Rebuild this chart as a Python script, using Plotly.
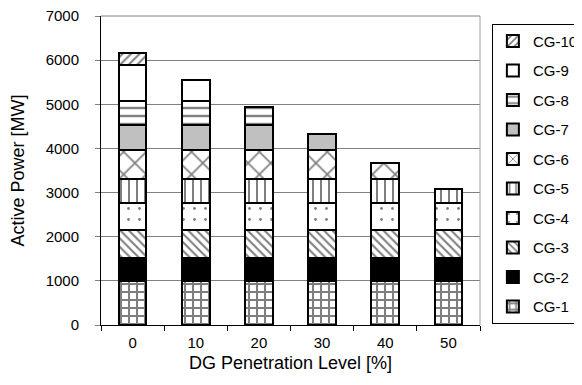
import plotly.graph_objects as go

levels = ["0", "10", "20", "30", "40", "50"]
series_names = ["CG-1", "CG-2", "CG-3", "CG-4", "CG-5", "CG-6", "CG-7", "CG-8", "CG-9", "CG-10"]
cg1 = [990, 990, 990, 990, 990, 990]
cg2 = [530, 530, 530, 530, 530, 530]
cg3 = [640, 640, 640, 640, 640, 640]
cg4 = [600, 600, 600, 600, 600, 600]
cg5 = [555, 555, 555, 555, 555, 312]
cg6 = [650, 650, 650, 650, 363, None]
cg7 = [570, 570, 570, 357, None, None]
cg8 = [545, 545, 395, None, None, None]
cg9 = [820, 470, None, None, None, None]
cg10 = [260, None, None, None, None, None]
y_ticks = [0, 1000, 2000, 3000, 4000, 5000, 6000, 7000]

all_series = [cg1, cg2, cg3, cg4, cg5, cg6, cg7, cg8, cg9, cg10]

styles = [
    dict(color="white", pattern=dict(shape="+", size=8, solidity=0.45, fgcolor="black", bgcolor="white")),
    dict(color="black"),
    dict(color="white", pattern=dict(shape="\\", size=6, solidity=0.35, fgcolor="black", bgcolor="white")),
    dict(color="white", pattern=dict(shape=".", size=11, solidity=0.05, fgcolor="black", bgcolor="white")),
    dict(color="white", pattern=dict(shape="|", size=8, solidity=0.25, fgcolor="black", bgcolor="white")),
    dict(color="white", pattern=dict(shape="x", size=16, solidity=0.2, fgcolor="black", bgcolor="white")),
    dict(color="#c0c0c0"),
    dict(color="white", pattern=dict(shape="-", size=8, solidity=0.3, fgcolor="black", bgcolor="white")),
    dict(color="white"),
    dict(color="white", pattern=dict(shape="/", size=6, solidity=0.35, fgcolor="black", bgcolor="white")),
]

fig = go.Figure()
for i, (name, vals, st) in enumerate(zip(series_names, all_series, styles)):
    marker = dict(line=dict(color="black", width=2))
    marker.update(st)
    fig.add_trace(go.Bar(x=levels, y=vals, name=name, marker=marker,
                         legendgroup=name, legendrank=100 - i))

font = dict(family="Liberation Sans, Arial, sans-serif", size=15, color="black")

# page body adds an 8px offset, so the figure is 8px smaller on each axis
fig.update_layout(
    barmode="stack",
    bargap=0.56,
    width=574,
    height=377,
    margin=dict(l=93, r=102, t=8, b=60),
    paper_bgcolor="white",
    plot_bgcolor="white",
    font=font,
    showlegend=True,
    legend=dict(
        xref="container", yref="paper",
        x=0.843, y=0.975, xanchor="left", yanchor="top",
        traceorder="grouped",
        tracegroupgap=7,
        bordercolor="black", borderwidth=1,
        font=dict(family="Liberation Sans, Arial, sans-serif", size=15, color="black"),
        itemwidth=30,
    ),
    xaxis=dict(
        title=dict(text="DG Penetration Level [%]", standoff=6),
        showline=True, linecolor="black", linewidth=1,
        ticks="outside", tickson="boundaries", ticklen=5, tickcolor="black",
        ticklabelstandoff=4,
        showgrid=False,
        automargin=False,
    ),
    yaxis=dict(
        title=dict(text="Active Power [MW]", standoff=30),
        range=[0, 7000],
        tickvals=y_ticks,
        showline=True, linecolor="black", linewidth=1,
        ticks="outside", ticklen=5, tickcolor="#808080",
        ticklabelstandoff=13,
        ticklabeloverflow="allow",
        showgrid=True, gridcolor="#808080", gridwidth=1,
        zeroline=False,
        automargin=False,
    ),
    shapes=[
        dict(type="line", xref="paper", yref="paper", x0=1, x1=1, y0=0, y1=1,
             line=dict(color="#a0a0a0", width=1)),
        dict(type="line", xref="paper", yref="paper", x0=0, x1=1, y0=1, y1=1,
             line=dict(color="#808080", width=1)),
    ],
)

fig.write_html("out.html")
